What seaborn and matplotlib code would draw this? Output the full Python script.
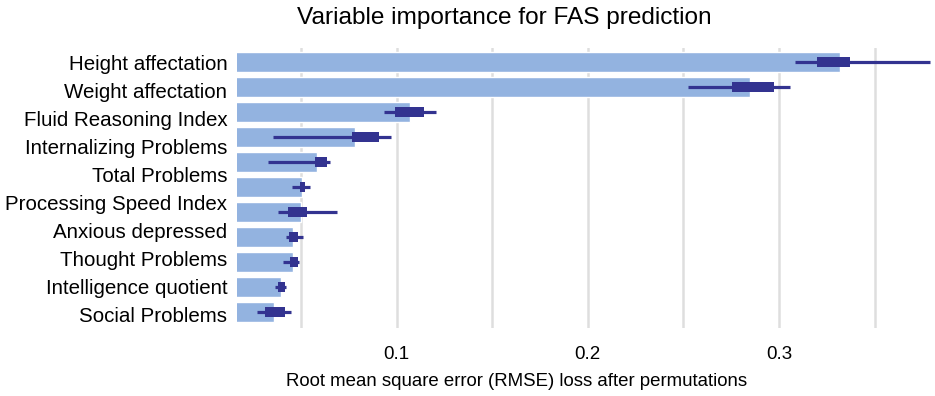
import numpy as np
import pandas as pd
import matplotlib
matplotlib.use("Agg")
import matplotlib.pyplot as plt
import seaborn as sns

# ---- data ----
bar_ids = ["v1", "v2", "v3", "v4", "v5", "v6", "v7", "v8", "v9", "v10", "v11"]
tick_labels = ["Height affectation", "Weight affectation", "Fluid Reasoning Index",
               "Internalizing Problems", "Total Problems", "Processing Speed Index",
               "Anxious depressed", "Thought Problems", "Intelligence quotient",
               "Social Problems"]
mean_loss = [0.3321, 0.2848, 0.1070, 0.0782, 0.0582, 0.0503, 0.0498, 0.0460, 0.0460, 0.0396, 0.0359]
box_low = [0.3196, 0.2752, 0.0991, 0.0765, 0.0573, 0.0495, 0.0434, 0.0439, 0.0443, 0.0382, 0.0309]
box_high = [0.3370, 0.2975, 0.1145, 0.0908, 0.0634, 0.0521, 0.0530, 0.0486, 0.0483, 0.0417, 0.0417]
whisk_low = [0.3083, 0.2526, 0.0936, 0.0355, 0.0329, 0.0451, 0.0382, 0.0422, 0.0408, 0.0365, 0.0269]
whisk_high = [0.3792, 0.3057, 0.1204, 0.0970, 0.0652, 0.0547, 0.0686, 0.0512, 0.0490, 0.0420, 0.0446]
full_model_loss = 0.0165
x_ticks = [0.05, 0.10, 0.15, 0.20, 0.25, 0.30, 0.35]
x_tick_labels = ["", "0.1", "", "0.2", "", "0.3", ""]

df = pd.DataFrame({"id": bar_ids, "loss": mean_loss,
                   "blo": box_low, "bhi": box_high,
                   "wlo": whisk_low, "whi": whisk_high})

sns.set_theme(style="white")
plt.rcParams["font.family"] = ["Liberation Sans", "DejaVu Sans"]

W, H = 935, 396
fig = plt.figure(figsize=(W / 100, H / 100), dpi=100)
ax = fig.add_axes([237 / W, 1 - 328 / H, (932 - 237) / W, (328 - 48) / H])

bar_col = "#93b3e0"
dark = "#333390"

sns.barplot(data=df, x="loss", y="id", orient="h", color=bar_col,
            width=0.8, saturation=1, ax=ax, zorder=2)

pos = np.arange(len(df))
ax.hlines(pos, df["wlo"], df["whi"], color=dark, linewidth=2.3, zorder=3)
ax.hlines(pos, df["blo"], df["bhi"], color=dark, linewidth=7.2, zorder=4)

ax.set_xlim(full_model_loss, 0.38)
ax.set_ylim(10.64, -0.56)

ax.set_xticks(x_ticks)
ax.set_xticklabels(x_tick_labels, fontsize=13.5, color="black")
ax.set_yticks(np.linspace(0, 10.1, len(tick_labels)))
ax.set_yticklabels(tick_labels, fontsize=14.8, color="black")
ax.tick_params(axis="x", length=0, pad=13)
ax.tick_params(axis="y", length=0, pad=7)
ax.xaxis.grid(True, color="#dedede", linewidth=1.8)
ax.yaxis.grid(False)
ax.set_axisbelow(True)
for s in ax.spines.values():
    s.set_visible(False)
ax.set_xlabel("")
ax.set_ylabel("")

fig.text(504 / W, 1 - 18 / H, "Variable importance for FAS prediction",
         ha="center", va="center", fontsize=17.6, color="black")
fig.text(517 / W, 1 - 381 / H, "Root mean square error (RMSE) loss after permutations",
         ha="center", va="center", fontsize=13.4, color="black")

fig.savefig("out.png", dpi=100)
